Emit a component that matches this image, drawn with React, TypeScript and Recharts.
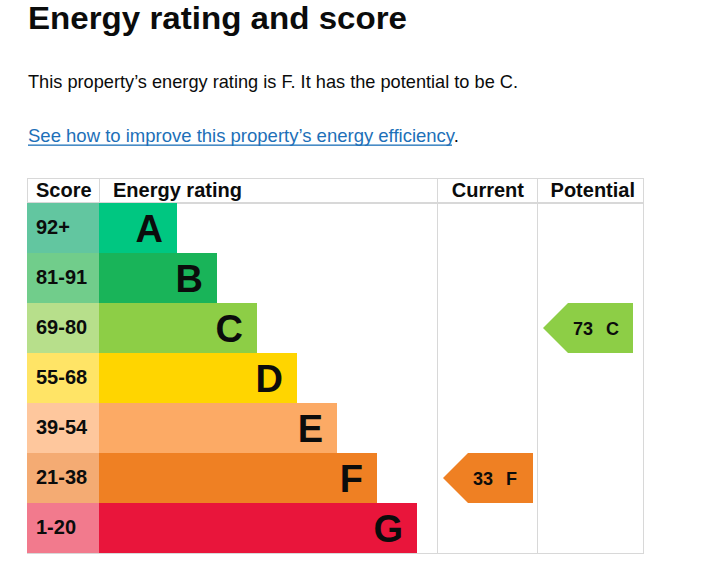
import React from "react";
import { BarChart, Bar, XAxis, YAxis } from "recharts";

// ---- data ----
const bands = ["A", "B", "C", "D", "E", "F", "G"];
const scoreRanges = ["92+", "81-91", "69-80", "55-68", "39-54", "21-38", "1-20"];
const bandLengths = [2, 3, 4, 5, 6, 7, 8];
const bandColors = ["#00c781", "#19b459", "#8dce46", "#ffd500", "#fcaa65", "#ef8023", "#e9153b"];
const scoreColors = ["#62c6a0", "#71cd8b", "#b7df8b", "#ffe466", "#fec79d", "#f4ab73", "#f27a8d"];
const headers = ["Score", "Energy rating", "Current", "Potential"];
const currentScore = 33;
const currentBand = "F";
const potentialScore = 73;
const potentialBand = "C";

const title = "Energy rating and score";
const summary = `This property\u2019s energy rating is ${currentBand}. It has the potential to be ${potentialBand}.`;
const linkText = "See how to improve this property\u2019s energy efficiency";

const rows = bands.map((band, i) => ({
  band,
  score: scoreRanges[i],
  length: bandLengths[i],
  color: bandColors[i],
  scoreColor: scoreColors[i],
}));

// ---- layout ----
const W = 708;
const H = 564;
const TABLE_LEFT = 27;
const TABLE_TOP = 178;
const HEADER_BOTTOM = 203;
const TABLE_BOTTOM = 553;
const SCORE_RIGHT = 99;
const CURRENT_LEFT = 437;
const POTENTIAL_LEFT = 537;
const TABLE_RIGHT = 643;
const TEXT = "#0b0c0c";
const LINE = "#d8d8d8";
const FONT = "'Liberation Sans', Arial, sans-serif";

const Arrow = ({ tip, y, h, color, score, band }: any) => {
  const half = h / 2;
  const right = tip + 90;
  const pts = `${tip},${y + half} ${tip + half},${y} ${right},${y} ${right},${y + h} ${tip + half},${y + h}`;
  const base = y + half + 6.5;
  return (
    <g>
      <polygon points={pts} fill={color} />
      <text x={tip + 30} y={base} fontFamily={FONT} fontWeight={700} fontSize={18} fill={TEXT}>
        {score}
      </text>
      <text x={tip + 63} y={base} fontFamily={FONT} fontWeight={700} fontSize={18} fill={TEXT}>
        {band}
      </text>
    </g>
  );
};

const BandShape = (props: any) => {
  const { x, y, width, height, payload } = props;
  const cy = y + height / 2;
  const bandIdx = bands.indexOf(payload.band);
  return (
    <g>
      <rect x={TABLE_LEFT} y={y} width={x - TABLE_LEFT} height={height} fill={payload.scoreColor} />
      <rect x={x} y={y} width={width} height={height} fill={payload.color} />
      <text x={TABLE_LEFT + 9} y={cy + 6} fontFamily={FONT} fontWeight={700} fontSize={20} fill={TEXT}>
        {payload.score}
      </text>
      <text
        x={x + width - 14}
        y={cy + 14}
        textAnchor="end"
        fontFamily={FONT}
        fontWeight={700}
        fontSize={38}
        fill={TEXT}
      >
        {payload.band}
      </text>
      {payload.band === currentBand && (
        <Arrow tip={CURRENT_LEFT + 6} y={y} h={height} color={bandColors[bandIdx]} score={currentScore} band={currentBand} />
      )}
      {payload.band === potentialBand && (
        <Arrow tip={POTENTIAL_LEFT + 6} y={y} h={height} color={bandColors[bandIdx]} score={potentialScore} band={potentialBand} />
      )}
    </g>
  );
};

export default function App() {
  return (
    <div style={{ position: "absolute", left: 0, top: 0, width: W, height: H, background: "#fff" }}>
      <svg width={W} height={H} style={{ position: "absolute", left: 0, top: 0 }}>
        <text x={28} y={29} fontFamily={FONT} fontWeight={700} fontSize={32} fill={TEXT} textLength={379} lengthAdjust="spacingAndGlyphs">
          {title}
        </text>
        <text x={28} y={88} fontFamily={FONT} fontSize={19} fill={TEXT} textLength={490} lengthAdjust="spacingAndGlyphs">
          {summary}
        </text>
        <text x={28} y={142} fontFamily={FONT} fontSize={18.5} fill={TEXT}>
          <tspan fill="#1d70b8">{linkText}</tspan>
          <tspan>.</tspan>
        </text>
        <rect x={28} y={144.5} width={424} height={1.3} fill="#1d70b8" />

        {/* table grid */}
        <rect x={TABLE_LEFT + 0.5} y={TABLE_TOP + 0.5} width={TABLE_RIGHT - TABLE_LEFT} height={TABLE_BOTTOM - TABLE_TOP} fill="none" stroke={LINE} strokeWidth={1} />
        <line x1={TABLE_LEFT} x2={TABLE_RIGHT} y1={HEADER_BOTTOM} y2={HEADER_BOTTOM} stroke={LINE} strokeWidth={2} />
        <line x1={SCORE_RIGHT + 0.5} x2={SCORE_RIGHT + 0.5} y1={TABLE_TOP} y2={HEADER_BOTTOM} stroke={LINE} strokeWidth={1} />
        <line x1={CURRENT_LEFT + 0.5} x2={CURRENT_LEFT + 0.5} y1={TABLE_TOP} y2={TABLE_BOTTOM} stroke={LINE} strokeWidth={1} />
        <line x1={POTENTIAL_LEFT + 0.5} x2={POTENTIAL_LEFT + 0.5} y1={TABLE_TOP} y2={TABLE_BOTTOM} stroke={LINE} strokeWidth={1} />

        {/* header */}
        <text x={36} y={197} fontFamily={FONT} fontWeight={700} fontSize={20} fill={TEXT}>{headers[0]}</text>
        <text x={113} y={197} fontFamily={FONT} fontWeight={700} fontSize={20} fill={TEXT}>{headers[1]}</text>
        <text x={524} y={197} textAnchor="end" fontFamily={FONT} fontWeight={700} fontSize={20} fill={TEXT}>{headers[2]}</text>
        <text x={635} y={197} textAnchor="end" fontFamily={FONT} fontWeight={700} fontSize={20} fill={TEXT}>{headers[3]}</text>
      </svg>
      <div style={{ position: "absolute", left: 0, top: 0 }}>
        <BarChart
          width={W}
          height={H}
          data={rows}
          layout="vertical"
          margin={{ top: HEADER_BOTTOM, right: W - CURRENT_LEFT, bottom: H - TABLE_BOTTOM, left: SCORE_RIGHT }}
          barCategoryGap={0}
          barGap={0}
        >
          <XAxis type="number" hide domain={[0.05, 8.5]} />
          <YAxis type="category" dataKey="band" hide />
          <Bar dataKey="length" isAnimationActive={false} shape={BandShape} />
        </BarChart>
      </div>
    </div>
  );
}
